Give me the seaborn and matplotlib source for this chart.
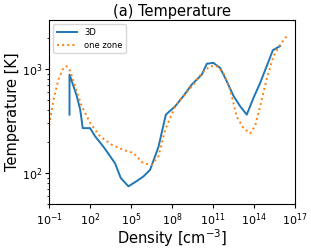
import numpy as np
import pandas as pd
import matplotlib
matplotlib.use("Agg")
import matplotlib.pyplot as plt
import seaborn as sns

# log10 density / log10 temperature
logn_3d = [0.49, 0.49, 0.66, 1.02, 1.27, 1.46, 2.0, 2.37, 2.98, 3.46, 3.83, 4.24,
           4.8, 5.4, 5.9, 6.39, 7.0, 7.54, 8.22, 8.83, 9.44, 10.17, 10.54, 11.02,
           11.51, 12.0, 12.49, 12.98, 13.46, 13.95, 14.44, 14.93, 15.37, 15.9]
logT_3d = [2.56, 2.945, 2.88, 2.74, 2.61, 2.43, 2.43, 2.35, 2.25, 2.16, 2.09, 1.95,
           1.87, 1.92, 1.965, 2.03, 2.25, 2.56, 2.64, 2.74, 2.85, 2.945, 3.05, 3.058,
           3.01, 2.88, 2.74, 2.64, 2.56, 2.72, 2.865, 3.03, 3.18, 3.22]

logn_oz = [-1.0, -0.68, -0.32, 0.05, 0.29, 0.54, 0.9, 1.39, 2.0, 2.73, 3.59, 4.44,
           5.17, 5.9, 6.51, 7.0, 7.49, 8.22, 8.83, 9.56, 10.17, 10.78, 11.27, 11.76,
           12.24, 12.73, 13.22, 13.71, 14.07, 14.44, 14.93, 15.41, 15.9, 16.39]
logT_oz = [2.46, 2.7, 2.9, 3.01, 3.026, 2.98, 2.83, 2.64, 2.48, 2.35, 2.27, 2.22,
           2.19, 2.09, 2.08, 2.16, 2.415, 2.64, 2.74, 2.85, 2.96, 3.026, 3.026, 2.96,
           2.8, 2.54, 2.43, 2.38, 2.45, 2.64, 2.91, 3.12, 3.235, 3.315]

df_3d = pd.DataFrame({"n": 10 ** np.array(logn_3d), "T": 10 ** np.array(logT_3d)})
df_oz = pd.DataFrame({"n": 10 ** np.array(logn_oz), "T": 10 ** np.array(logT_oz)})

fig = plt.figure(figsize=(3.11, 2.48), dpi=100)
ax = fig.add_axes([0.158, 0.177, 0.791, 0.742])

sns.lineplot(data=df_3d, x="n", y="T", sort=False, estimator=None, ax=ax,
             color="#1f77b4", linewidth=1.4, label="3D")
sns.lineplot(data=df_oz, x="n", y="T", sort=False, estimator=None, ax=ax,
             color="#ff7f0e", linewidth=1.4, linestyle=":", label="one zone")

ax.set_xscale("log")
ax.set_yscale("log")
ax.set_xlim(1e-1, 1e17)
ax.set_ylim(50, 2950)
ax.set_xticks([10.0 ** k for k in range(-1, 18, 3)])
ax.xaxis.set_minor_locator(matplotlib.ticker.NullLocator())
ax.tick_params(labelsize=8, length=3, pad=2)
ax.tick_params(which="minor", length=1.5)
for s in ax.spines.values():
    s.set_linewidth(0.8)

ax.set_xlabel("Density [cm$^{-3}$]", fontsize=10.5, labelpad=0)
ax.set_ylabel("Temperature [K]", fontsize=10.5, labelpad=1)
ax.set_title("(a) Temperature", fontsize=10.5, pad=3)
ax.legend(loc="upper left", fontsize=6, frameon=True, handlelength=2.5)

fig.savefig("out.png", dpi=100)
